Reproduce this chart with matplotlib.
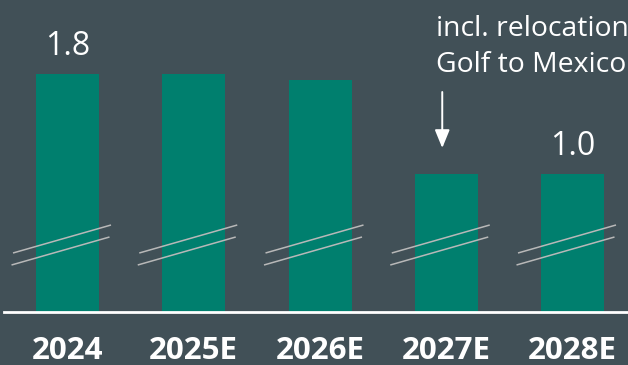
import matplotlib
matplotlib.use("Agg")
import matplotlib.pyplot as plt

categories = ["2024", "2025E", "2026E", "2027E", "2028E"]
values = [1.8, 1.8, 1.75, 1.0, 1.0]
labeled = {0: "1.8", 4: "1.0"}
note_lines = ["incl. relocation", "Golf to Mexico"]
note_index = 3

BG = "#415057"
BAR = "#007f6e"
BRK = "#b8b8b8"

W, H = 628, 365
fig = plt.figure(figsize=(W / 100, H / 100), dpi=100, facecolor=BG)

base_px = 312
ax = fig.add_axes([4 / W, (H - base_px) / H, 624 / W, base_px / H])
ax.set_facecolor(BG)

# scale: 125 px per unit, 126.25 px per category
ppu_y = 125.0
ppu_x = 126.25
ymin = 1.0 - (base_px - 174) / ppu_y
ymax = ymin + base_px / ppu_y
ax.set_ylim(ymin, ymax)
ax.set_xlim((4 - 67.5) / ppu_x, (628 - 67.5) / ppu_x)

x = list(range(len(categories)))
ax.bar(x, [v - ymin for v in values], bottom=ymin, width=63 / ppu_x,
       color=BAR, zorder=2)

# break marks
brk_y = 0.48
hw = 49 / ppu_x
hh = 14 / ppu_y
gap = 12 / ppu_y
for i in x:
    cx = i - 5.5 / ppu_x
    ax.plot([cx - hw, cx + hw], [brk_y - hh, brk_y + hh], color=BRK, lw=1.1,
            zorder=3, solid_capstyle="butt")
    cx2 = cx - 1.5 / ppu_x
    ax.plot([cx2 - hw, cx2 + hw], [brk_y - hh - gap, brk_y + hh - gap],
            color=BRK, lw=1.1, zorder=3, solid_capstyle="butt")

FONT = "Open Sans"
for i, txt in labeled.items():
    ax.annotate(txt, xy=(i, values[i]), xytext=(0, 19), textcoords="offset pixels",
                ha="center", va="baseline", color="white", fontsize=23,
                family=FONT)

# annotation text + arrow
tx = (436 - 67.5) / ppu_x
ax.text(tx, values[note_index] + (174 - 36) / ppu_y, note_lines[0], ha="left",
        va="baseline", color="white", fontsize=20.4, family=FONT, clip_on=False)
ax.text(tx, values[note_index] + (174 - 72) / ppu_y, note_lines[1], ha="left",
        va="baseline", color="white", fontsize=20.4, family=FONT, clip_on=False)
ax_x = note_index - 4 / ppu_x
ax.annotate("", xy=(ax_x, values[note_index] + 26 / ppu_y),
            xytext=(ax_x, values[note_index] + (174 - 92) / ppu_y),
            arrowprops=dict(arrowstyle="-|>,head_length=1.1,head_width=0.45",
                            color="white", lw=1.4, shrinkA=0, shrinkB=0))

for s in ["top", "left", "right"]:
    ax.spines[s].set_visible(False)
ax.spines["bottom"].set_color("white")
ax.spines["bottom"].set_linewidth(2.0)
ax.spines["bottom"].set_zorder(4)
ax.set_yticks([])
ax.set_xticks(x)
ax.set_xticklabels(categories, fontsize=22.5, fontweight="bold", family=FONT,
                   color="white")
ax.tick_params(axis="x", length=0, pad=17)

fig.savefig("out.png", dpi=100, facecolor=BG)
